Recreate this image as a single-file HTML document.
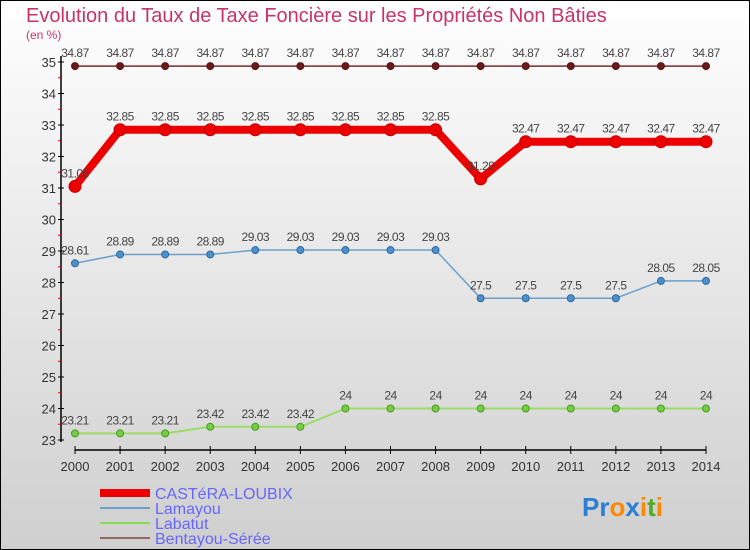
<!DOCTYPE html>
<html><head><meta charset="utf-8"><style>
body{margin:0;}
#c{width:750px;height:550px;position:relative;overflow:hidden;font-family:"Liberation Sans",sans-serif;}
</style></head><body>
<div id="c">
<svg id="s" width="750" height="550" xmlns="http://www.w3.org/2000/svg">
<defs><linearGradient id="bg" x1="0" y1="0" x2="0" y2="1"><stop offset="0" stop-color="#ffffff"/><stop offset="1" stop-color="#cfcfcf"/></linearGradient></defs>
<rect x="0.5" y="0.5" width="749" height="549" fill="url(#bg)" stroke="#000" stroke-width="1"/>
<text x="26" y="22" font-size="20" fill="#c8336a">Evolution du Taux de Taxe Foncière sur les Propriétés Non Bâties</text>
<text x="26" y="39" font-size="12" fill="#c8336a">(en %)</text>
<g id="axes"></g><g id="series"></g>
<g>
<line x1="100" y1="493" x2="150" y2="493" stroke="#ee0000" stroke-width="8"/>
<text x="155" y="499" font-size="16" fill="#6666ff">CASTéRA-LOUBIX</text>
<line x1="100" y1="508" x2="150" y2="508" stroke="#6aa0cc" stroke-width="2"/>
<text x="155" y="514" font-size="16" fill="#6666ff">Lamayou</text>
<line x1="100" y1="523" x2="150" y2="523" stroke="#88dd55" stroke-width="2"/>
<text x="155" y="529" font-size="16" fill="#6666ff">Labatut</text>
<line x1="100" y1="538" x2="150" y2="538" stroke="#996666" stroke-width="2"/>
<text x="155" y="544" font-size="16" fill="#6666ff">Bentayou-Sérée</text>
</g>
<text x="582" y="516" font-size="26" font-weight="bold"><tspan fill="#2a7fd4">Pr</tspan><tspan fill="#ff8800">o</tspan><tspan fill="#2a7fd4">x</tspan><tspan fill="#ff8800">i</tspan><tspan fill="#55aa22">t</tspan><tspan fill="#ff8800">i</tspan></text>
</svg>
</div>
<script>
const years=[2000,2001,2002,2003,2004,2005,2006,2007,2008,2009,2010,2011,2012,2013,2014];
const castera=[31.05,32.85,32.85,32.85,32.85,32.85,32.85,32.85,32.85,31.29,32.47,32.47,32.47,32.47,32.47];
const lamayou=[28.61,28.89,28.89,28.89,29.03,29.03,29.03,29.03,29.03,27.5,27.5,27.5,27.5,28.05,28.05];
const labatut=[23.21,23.21,23.21,23.42,23.42,23.42,24,24,24,24,24,24,24,24,24];
const bentayou=[34.87,34.87,34.87,34.87,34.87,34.87,34.87,34.87,34.87,34.87,34.87,34.87,34.87,34.87,34.87];
const yTicks=[23,24,25,26,27,28,29,30,31,32,33,34,35];
const NS="http://www.w3.org/2000/svg";
const x=i=>75+i*(706-75)/(years.length-1);
const y=v=>440-(v-23)*(440-62)/12;
function mk(t,a,p){const e=document.createElementNS(NS,t);for(const k in a)e.setAttribute(k,a[k]);p.appendChild(e);return e;}
const ax=document.getElementById('axes');
let e=mk('line',{x1:61,y1:56,x2:61,y2:442,stroke:'#000','stroke-width':1.5},ax);


e=mk('line',{x1:75,y1:450,x2:706,y2:450,stroke:'#000','stroke-width':1.5},ax);


yTicks.forEach(v=>{
 mk('line',{x1:58,y1:y(v),x2:64,y2:y(v),stroke:'#000'},ax);
 if(v<35)mk('line',{x1:58,y1:y(v+0.5),x2:61,y2:y(v+0.5),stroke:'#e00'},ax);
 const t=mk('text',{x:56,y:y(v)+5,'font-size':13,fill:'#333','text-anchor':'end'},ax);
 t.textContent=v;
 
 
});
years.forEach((yr,i)=>{
 mk('line',{x1:x(i),y1:446,x2:x(i),y2:454,stroke:'#000'},ax);
 const t=mk('text',{x:x(i),y:471,'font-size':13,fill:'#333','text-anchor':'middle'},ax);
 t.textContent=yr;
 
 
});
const sg=document.getElementById('series');
function draw(vals,name,color,w,r,dot,dotStroke){
 const g=mk('g',{},sg);
 
 
 const pl=mk('polyline',{points:vals.map((v,i)=>x(i)+','+y(v)).join(' '),fill:'none',stroke:color,'stroke-width':w,'stroke-linejoin':'round'},g);
 
 
 vals.forEach((v,i)=>{
  const c=mk('circle',{cx:x(i),cy:y(v),r:r,fill:dot,stroke:dotStroke,'stroke-width':1},g);
  
  
  const t=mk('text',{x:x(i),y:y(v)-9,'font-size':12,fill:'#444','text-anchor':'middle','letter-spacing':'-0.5'},g);
  t.textContent=v;
  
  
 });
}
draw(bentayou,'bentayou','#7a2a2a',1.5,3.5,'#6a1a1a','#5a1010');
draw(castera,'castera','#ee0000',8,6,'#ee0000','#c00000');
draw(lamayou,'lamayou','#6aa0cc',1.5,3.5,'#4f8fcc','#2a6aa0');
draw(labatut,'labatut','#99dd66',2,3.5,'#77cc44','#4a9a22');
</script>
</body></html>
